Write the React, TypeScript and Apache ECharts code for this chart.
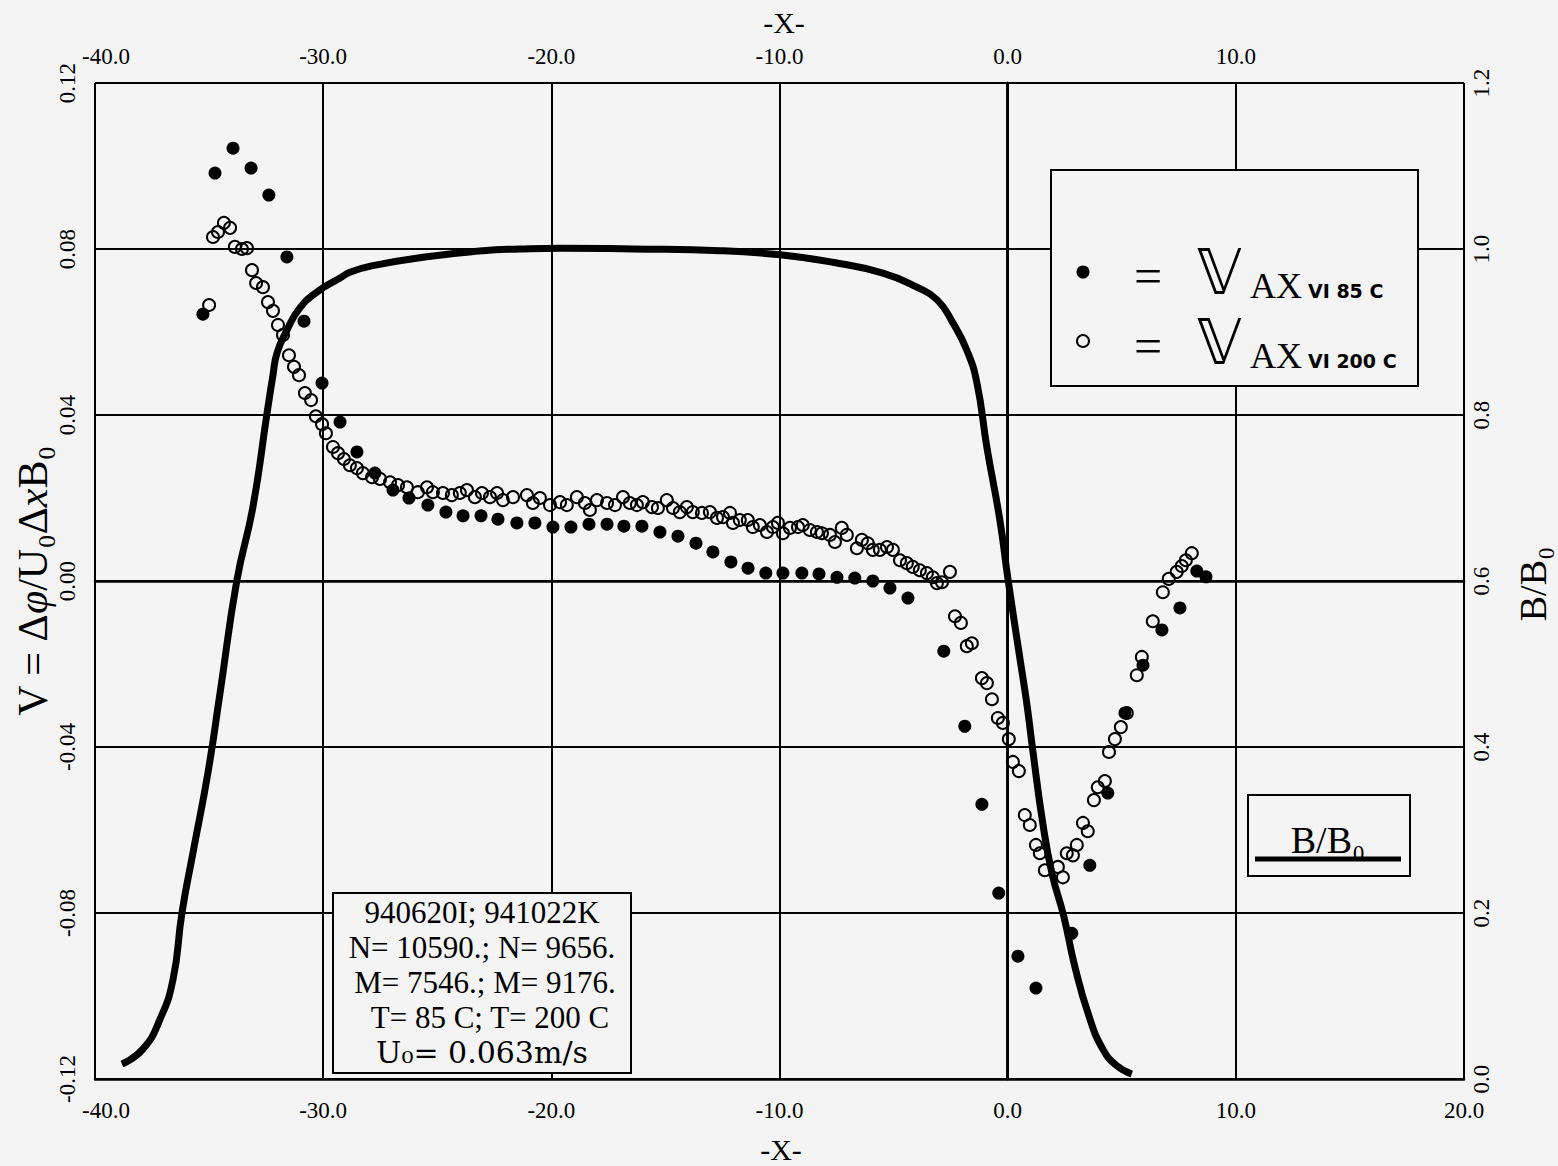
import React, { useEffect, useRef } from 'react';
import * as echarts from 'echarts';

// ---- Data ----
// B/B0 profile (right axis)
const bX = [-38.82, -37.9, -37.15, -36.58, -36.19, -35.71, -35.05, -34.52, -33.78, -33.08, -32.46, -32.2, -32.02, -31.59, -31.02, -30.23, -29.26, -28.83, -27.82, -25.63, -22.99, -21.38, -19.62, -16.42, -12.61, -9.98, -7.66, -5.47, -3.98, -3.1, -2.4, -1.79, -1.35, -0.91, -0.34, 0.01, 0.53, 0.84, 1.1, 1.54, 1.94, 2.46, 2.94, 3.56, 4.17, 4.78, 5.44];
const bY = [0.018, 0.036, 0.072, 0.12, 0.2, 0.272, 0.369, 0.465, 0.601, 0.689, 0.802, 0.848, 0.875, 0.902, 0.929, 0.949, 0.965, 0.972, 0.98, 0.99, 0.998, 1.0, 1.001, 1.0, 0.998, 0.993, 0.984, 0.971, 0.954, 0.939, 0.911, 0.878, 0.839, 0.761, 0.673, 0.603, 0.508, 0.452, 0.396, 0.308, 0.248, 0.196, 0.136, 0.076, 0.036, 0.016, 0.006];

// V_AXVI 85 C (filled)
const fX = [-35.27, -34.74, -33.95, -33.16, -32.38, -31.59, -30.84, -30.05, -29.26, -28.52, -27.73, -26.94, -26.24, -25.41, -24.62, -23.87, -23.08, -22.34, -21.51, -20.72, -19.93, -19.14, -18.35, -17.56, -16.82, -16.03, -15.24, -14.45, -13.66, -12.92, -12.13, -11.38, -10.6, -9.85, -9.02, -8.27, -7.48, -6.7, -5.91, -5.16, -4.37, -2.8, -1.88, -1.13, -0.39, 0.45, 1.24, 2.81, 3.6, 4.39, 5.14, 5.93, 6.76, 7.55, 8.29, 8.69];
const fY = [0.0643, 0.0983, 0.1043, 0.0995, 0.093, 0.0781, 0.0626, 0.0477, 0.0383, 0.0311, 0.026, 0.0219, 0.02, 0.0183, 0.0166, 0.0157, 0.0157, 0.0149, 0.014, 0.014, 0.013, 0.013, 0.0137, 0.0137, 0.0132, 0.0132, 0.0118, 0.0108, 0.0091, 0.007, 0.0046, 0.0031, 0.0019, 0.0019, 0.0019, 0.0017, 0.0009, 0.0007, 0.0, -0.0017, -0.0041, -0.0169, -0.035, -0.0538, -0.0752, -0.0904, -0.0981, -0.0849, -0.0685, -0.0511, -0.0318, -0.0203, -0.0118, -0.0065, 0.0024, 0.001];

// V_AXVI 200 C (open)
const oX = [-35.0, -34.83, -34.61, -34.35, -34.08, -33.87, -33.56, -33.34, -33.12, -32.94, -32.64, -32.42, -32.2, -31.98, -31.76, -31.5, -31.28, -31.06, -30.8, -30.53, -30.32, -30.05, -29.88, -29.57, -29.35, -29.09, -28.83, -28.52, -28.26, -27.86, -27.51, -27.07, -26.72, -26.33, -25.85, -25.45, -25.19, -24.75, -24.36, -24.01, -23.7, -23.35, -23.04, -22.69, -22.38, -22.12, -21.68, -21.07, -20.81, -20.5, -20.06, -19.62, -19.32, -18.88, -18.53, -18.31, -18.0, -17.56, -17.21, -16.86, -16.56, -16.25, -15.99, -15.59, -15.33, -14.94, -14.67, -14.37, -14.06, -13.8, -13.4, -13.05, -12.74, -12.48, -12.17, -12.04, -11.74, -11.39, -11.17, -10.86, -10.55, -10.29, -10.07, -9.85, -9.54, -9.19, -8.98, -8.67, -8.36, -8.14, -7.79, -7.57, -7.27, -7.05, -6.61, -6.39, -6.13, -5.91, -5.6, -5.29, -5.03, -4.72, -4.42, -4.16, -3.85, -3.54, -3.28, -3.1, -2.88, -2.53, -2.31, -2.05, -1.79, -1.57, -1.13, -0.91, -0.69, -0.43, -0.21, 0.05, 0.23, 0.49, 0.75, 0.97, 1.24, 1.41, 1.63, 2.2, 2.42, 2.59, 2.86, 3.03, 3.3, 3.51, 3.78, 3.95, 4.26, 4.44, 4.7, 4.96, 5.22, 5.66, 5.88, 6.36, 6.8, 7.06, 7.41, 7.63, 7.81, 8.07];
const oY = [0.0665, 0.0829, 0.0841, 0.0863, 0.0851, 0.0805, 0.08, 0.0802, 0.0749, 0.0718, 0.0708, 0.0672, 0.0651, 0.0617, 0.0593, 0.0544, 0.0516, 0.0496, 0.0453, 0.0436, 0.0397, 0.0378, 0.0356, 0.0323, 0.0308, 0.0294, 0.0279, 0.0272, 0.026, 0.025, 0.0246, 0.0238, 0.0231, 0.0226, 0.0214, 0.0226, 0.0214, 0.0212, 0.0207, 0.0212, 0.0219, 0.0202, 0.0212, 0.0202, 0.0212, 0.0195, 0.0202, 0.0207, 0.0188, 0.02, 0.0183, 0.019, 0.0183, 0.0202, 0.0188, 0.0171, 0.0195, 0.0188, 0.0183, 0.0202, 0.0188, 0.0183, 0.019, 0.0178, 0.0176, 0.0195, 0.0176, 0.0166, 0.0178, 0.0166, 0.0164, 0.0166, 0.0152, 0.0154, 0.0164, 0.014, 0.0147, 0.0147, 0.013, 0.0135, 0.0118, 0.013, 0.014, 0.0115, 0.0128, 0.013, 0.0135, 0.0123, 0.0118, 0.0115, 0.0111, 0.0094, 0.0128, 0.0111, 0.0079, 0.0099, 0.0091, 0.0075, 0.0075, 0.0082, 0.0075, 0.005, 0.0043, 0.0034, 0.0026, 0.0019, 0.0009, -0.0005, -0.0003, 0.0022, -0.0085, -0.0101, -0.0157, -0.015, -0.0234, -0.0246, -0.0285, -0.033, -0.0342, -0.0381, -0.0436, -0.0458, -0.0564, -0.0588, -0.0636, -0.0656, -0.0697, -0.0689, -0.0714, -0.0656, -0.0661, -0.0636, -0.0583, -0.0603, -0.0528, -0.0497, -0.0482, -0.0412, -0.0381, -0.0352, -0.0318, -0.0227, -0.0183, -0.0097, -0.0027, 0.0005, 0.0022, 0.0036, 0.005, 0.0067];

const infoLines = ['940620I; 941022K', 'N= 10590.; N= 9656.', 'M= 7546.; M= 9176.', 'T= 85 C; T= 200 C'];
const speedLine = 'U\u2080= 0.063m/s';

const BG = '#f4f4f4';
const SERIF = '"Liberation Serif", "Times New Roman", serif';

const zip = (xs: number[], ys: number[]) => xs.map((x, i) => [x, ys[i]]);

export default function App() {
  const ref = useRef<HTMLDivElement>(null);
  useEffect(() => {
    if (!ref.current) return;
    const chart = echarts.init(ref.current, undefined, { renderer: 'svg' });
    const axisLine = { show: true, lineStyle: { color: '#000', width: 2.5 } };
    const axisTick = { show: true, inside: false, length: 12, lineStyle: { color: '#000', width: 2 } };
    const labelBase = {
      color: '#000', fontFamily: SERIF, fontSize: 23,
      rich: { m: { color: '#000', fontFamily: SERIF, fontSize: 23, padding: [0, 0, 0, 22] } },
    };
    const xFmt = (v: number) => (v <= -40 ? `{m|${v.toFixed(1)}}` : v.toFixed(1));
    const txt = (x: number, y: number, text: string, font: string, align = 'center', extra: any = {}) => ({
      type: 'text', x, y, z: 110,
      style: { text, font, fill: '#000', textAlign: align, textVerticalAlign: 'middle', align, verticalAlign: 'middle', ...extra },
    });
    const option: any = {
      animation: false,
      backgroundColor: BG,
      grid: { left: 95, right: 94, top: 83, bottom: 87, containLabel: false },
      xAxis: [
        {
          type: 'value', position: 'bottom', min: -40, max: 20, interval: 10,
          axisLine, axisTick,
          axisLabel: { ...labelBase, margin: 20, formatter: xFmt },
          splitLine: { show: true, lineStyle: { color: '#000', width: 2 } },
        },
        {
          type: 'value', position: 'top', min: -40, max: 20, interval: 10,
          axisLine, axisTick,
          axisLabel: { ...labelBase, margin: 15, formatter: (v: number) => (v >= 20 ? '' : xFmt(v)) },
          splitLine: { show: false },
        },
      ],
      yAxis: [
        {
          type: 'value', position: 'left', min: -0.12, max: 0.12, interval: 0.04,
          axisLine, axisTick,
          axisLabel: { color: '#000', fontFamily: SERIF, fontSize: 23, rotate: 90, margin: 16, formatter: (v: number) => v.toFixed(2) },
          splitLine: { show: true, lineStyle: { color: '#000', width: 2 } },
        },
        {
          type: 'value', position: 'right', min: 0, max: 1.2, interval: 0.2,
          axisLine, axisTick,
          axisLabel: { color: '#000', fontFamily: SERIF, fontSize: 23, rotate: 90, margin: 6, formatter: (v: number) => v.toFixed(1) },
          splitLine: { show: false },
        },
      ],
      series: [
        {
          name: 'B/B0', type: 'line', xAxisIndex: 0, yAxisIndex: 1,
          data: zip(bX, bY), showSymbol: false, symbol: 'none',
          smooth: 0.5,
          lineStyle: { color: '#000', width: 7, cap: 'butt' }, z: 3,
        },
        {
          name: 'VAXVI 85 C', type: 'scatter', xAxisIndex: 0, yAxisIndex: 0,
          data: zip(fX, fY), symbol: 'circle', symbolSize: 13,
          itemStyle: { color: '#000', opacity: 1 }, z: 4,
        },
        {
          name: 'VAXVI 200 C', type: 'scatter', xAxisIndex: 0, yAxisIndex: 0,
          data: zip(oX, oY), symbol: 'circle', symbolSize: 12,
          itemStyle: { color: 'rgba(0,0,0,0)', borderColor: '#000', borderWidth: 2, opacity: 1 }, z: 5,
        },
      ],
      graphic: [
        // axis titles
        txt(781, 1149, '-X-', `30px ${SERIF}`),
        txt(784, 22, '-X-', `30px ${SERIF}`),
        {
          type: 'text', x: 33, y: 581, rotation: Math.PI / 2, z: 110,
          style: {
            text: '{n|V = Δ}{i|φ}{n|/U₀Δ}{i|x}{n|B₀}',
            textAlign: 'center', textVerticalAlign: 'middle', align: 'center', verticalAlign: 'middle',
            rich: {
              n: { fontFamily: SERIF, fontSize: 42, fill: '#000' },
              i: { fontFamily: SERIF, fontSize: 42, fontStyle: 'italic', fill: '#000' },
            },
          },
        },
        {
          type: 'text', x: 1533, y: 584, rotation: Math.PI / 2, z: 110,
          style: { text: 'B/B₀', font: `38px ${SERIF}`, fill: '#000', textAlign: 'center', textVerticalAlign: 'middle', align: 'center', verticalAlign: 'middle' },
        },
        // legend box
        { type: 'rect', z: 100, shape: { x: 1051, y: 170, width: 367, height: 216 }, style: { fill: BG, stroke: '#000', lineWidth: 2 } },
        { type: 'circle', z: 110, shape: { cx: 1083, cy: 272, r: 6.5 }, style: { fill: '#000' } },
        { type: 'circle', z: 110, shape: { cx: 1083, cy: 341, r: 6 }, style: { fill: BG, stroke: '#000', lineWidth: 2 } },
        txt(1148, 276, '=', `50px ${SERIF}`),
        txt(1148, 346, '=', `50px ${SERIF}`),
        txt(1197, 272, '𝕍', `62px "DejaVu Sans", sans-serif`, 'left'),
        txt(1197, 342, '𝕍', `62px "DejaVu Sans", sans-serif`, 'left'),
        txt(1250, 286, 'AX', `36px ${SERIF}`, 'left'),
        txt(1250, 356, 'AX', `36px ${SERIF}`, 'left'),
        txt(1308, 291, 'VI 85 C', `bold 19px "DejaVu Sans", sans-serif`, 'left'),
        txt(1308, 361, 'VI 200 C', `bold 19px "DejaVu Sans", sans-serif`, 'left'),
        // B/B0 legend box
        { type: 'rect', z: 100, shape: { x: 1248, y: 795, width: 162, height: 81 }, style: { fill: BG, stroke: '#000', lineWidth: 2 } },
        txt(1328, 840, 'B/B₀', `38px ${SERIF}`),
        { type: 'line', z: 110, shape: { x1: 1255, y1: 859, x2: 1401, y2: 859 }, style: { stroke: '#000', lineWidth: 5 } },
        // info box
        { type: 'rect', z: 100, shape: { x: 333, y: 893, width: 298, height: 180 }, style: { fill: BG, stroke: '#000', lineWidth: 2 } },
        txt(482, 912, infoLines[0], `31px ${SERIF}`),
        txt(482, 947, infoLines[1], `31px ${SERIF}`),
        txt(485, 982, infoLines[2], `31px ${SERIF}`),
        txt(490, 1017, infoLines[3], `31px ${SERIF}`),
        txt(482, 1052, speedLine, `30px "DejaVu Serif", serif`),
      ],
    };
    chart.setOption(option);
    return () => chart.dispose();
  }, []);
  return <div ref={ref} style={{ position: 'fixed', left: 0, top: 0, width: 1558, height: 1166 }} />;
}
